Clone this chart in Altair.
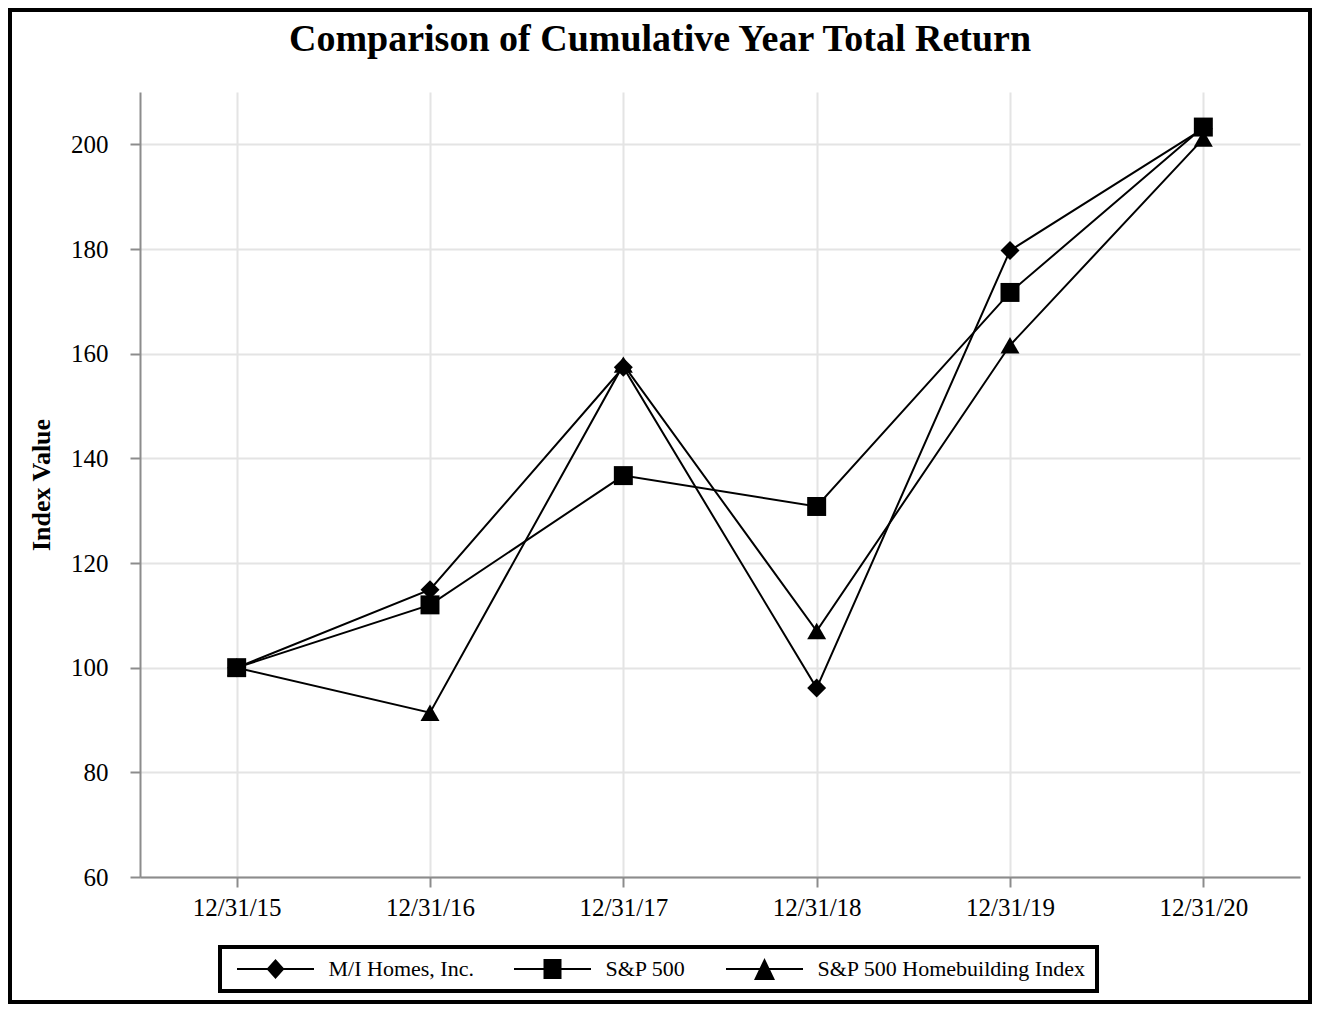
import altair as alt
import pandas as pd

dates = ["12/31/15", "12/31/16", "12/31/17", "12/31/18", "12/31/19", "12/31/20"]
series_names = ["M/I Homes, Inc.", "S&P 500", "S&P 500 Homebuilding Index"]
mi_homes = [100.0, 114.9, 157.4, 96.1, 179.7, 203.0]
sp500 = [100.0, 112.0, 136.7, 130.8, 171.7, 203.3]
homebuilding = [100.0, 91.4, 157.9, 107.0, 161.6, 201.1]
y_ticks = [60, 80, 100, 120, 140, 160, 180, 200]

rows = []
for name, vals in zip(series_names, [mi_homes, sp500, homebuilding]):
    for d, v in zip(dates, vals):
        rows.append({"date": d, "series": name, "value": v})
df = pd.DataFrame(rows)

FONT = "Liberation Serif"

# legend symbols: a thin filled bar (the line) with the marker in its middle
BAR = "M-3.85,-0.1L3.85,-0.1L3.85,0.1L-3.85,0.1Z"
legend_paths = [
    BAR + "M0,-1L0.9,0L0,1L-0.9,0Z",
    BAR + "M-0.9,-1L0.9,-1L0.9,1L-0.9,1Z",
    BAR + "M0,-1.1L1.05,1.1L-1.05,1.1Z",
]

x_enc = alt.X("date:N", sort=dates,
              scale=alt.Scale(type="point", padding=0.5),
              axis=alt.Axis(title=None, labelAngle=0, labelPadding=8, grid=True))
y_enc = alt.Y("value:Q",
              scale=alt.Scale(domain=[60, 210], nice=False, zero=False),
              axis=alt.Axis(values=y_ticks, title="Index Value", titleFontSize=26,
                            titleFontWeight="bold", labelPadding=22, titlePadding=16))

base = alt.Chart(df)

frame = alt.Chart(alt.Data(values=[{"k": 1}])).mark_rect(
    filled=False, stroke="black", strokeWidth=4
).encode(
    x=alt.value(-130), x2=alt.value(1170), y=alt.value(-82), y2=alt.value(910)
)

lines = base.mark_line(color="black", strokeWidth=2).encode(
    x=x_enc, y=y_enc, detail="series:N"
)

points = base.mark_point(filled=True, color="black", opacity=1).encode(
    x=x_enc, y=y_enc,
    shape=alt.Shape("series:N", scale=alt.Scale(domain=series_names,
                    range=["diamond", "square", "triangle-up"]), legend=None),
    size=alt.Size("series:N", scale=alt.Scale(domain=series_names,
                  range=[360, 360, 530]), legend=None),
)

legend_layer = base.transform_filter("false").mark_point(
    filled=True, color="black", size=400, opacity=1
).encode(
    x=x_enc, y=y_enc,
    shape=alt.Shape("series:N",
                    scale=alt.Scale(domain=series_names, range=legend_paths),
                    legend=alt.Legend(
                        title=None, orient="none", direction="horizontal",
                        legendX=80, legendY=855,
                        symbolSize=400, symbolOffset=33.5, labelOffset=42,
                        symbolFillColor="black", symbolOpacity=1,
                        symbolStrokeWidth=0, columnPadding=34,
                        labelFont=FONT, labelFontSize=22, labelColor="black",
                        labelLimit=600, padding=11, strokeColor="black",
                    )),
)

chart = alt.layer(frame, lines, points, legend_layer).resolve_scale(
    shape="independent", size="independent"
).properties(
    width=1160,
    height=785,
    autosize=alt.AutoSizeParams(type="none"),
    padding={"left": 132, "top": 84, "right": 12, "bottom": 127},
    title=alt.Title(text="Comparison of Cumulative Year Total Return",
                    font=FONT, fontSize=38, fontWeight="bold", color="black",
                    anchor="middle", dx=-60, offset=-81, baseline="alphabetic"),
).configure_view(stroke=None).configure_axis(
    domainColor="#8c8c8c", domainWidth=2, tickColor="#8c8c8c", tickWidth=2,
    tickSize=10, gridColor="#e4e4e4", gridWidth=2,
    labelFont=FONT, labelFontSize=25, labelColor="black",
    titleFont=FONT, titleColor="black",
)

try:
    chart.configure_legend(strokeWidth=4).save(
        "out.html", embed_options={"renderer": "svg", "actions": False})
except Exception:
    chart.save("out.html", embed_options={"renderer": "svg", "actions": False})
